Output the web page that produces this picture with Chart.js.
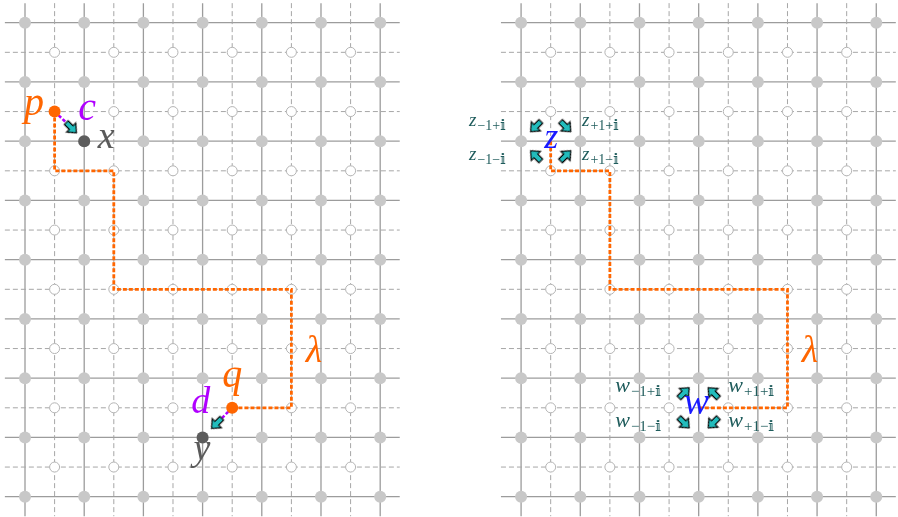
<!DOCTYPE html>
<html>
<head>
<meta charset="utf-8">
<script src="https://cdn.jsdelivr.net/npm/chart.js@4.4.1/dist/chart.umd.min.js"></script>
<style>
  html, body { margin: 0; padding: 0; background: #fff; }
  canvas { display: block; }
</style>
</head>
<body>
<canvas id="lattice" width="898" height="517"></canvas>
<script>
// ---- lattice data (grid units, row 0 at the top) ----
const primalCols = [0, 1, 2, 3, 4, 5, 6];
const primalRows = [0, 1, 2, 3, 4, 5, 6, 7, 8];
const dualCols = [0.5, 1.5, 2.5, 3.5, 4.5, 5.5];
const dualRows = [0.5, 1.5, 2.5, 3.5, 4.5, 5.5, 6.5, 7.5];
const lineSpanX = [-0.34, 6.33];
const lineSpanY = [-0.33, 8.33];

// left panel
const pathLeft = [[0.5, 1.5], [0.5, 2.5], [1.5, 2.5], [1.5, 4.5], [4.5, 4.5], [4.5, 6.5], [3.5, 6.5]];
const endsLeft = [[0.5, 1.5], [3.5, 6.5]];          // p, q
const targetsLeft = [[1, 2], [3, 7]];               // x, y
const linksLeft = [[[0.5, 1.5], [0.69, 1.68]], [[3.5, 6.5], [3.31, 6.69]]];
const arrowsLeft = [[0.78, 1.77, 45], [3.24, 6.76, 135]];   // u, v, direction

// right panel
const pathRight = [[0.5, 2], [0.5, 2.5], [1.5, 2.5], [1.5, 4.5], [4.5, 4.5], [4.5, 6.5], [3, 6.5]];
const arrowsZ = [[0.25, 1.75, 135], [0.75, 1.75, 45], [0.25, 2.25, 225], [0.75, 2.25, 315]];
const arrowsW = [[2.75, 6.25, 315], [3.25, 6.25, 225], [2.75, 6.75, 45], [3.25, 6.75, 135]];

// ---- layout ----
const panelDx = [0, 8.38];
const X0 = -0.4223, X1 = 14.747, Y0 = -0.383, Y1 = 8.343;

const ORANGE = '#ff6600';
const PURPLE = '#b000ff';
const GRAYTXT = '#5a5a5a';
const BLUE = '#1a1aff';
const TEAL = '#1f5c5c';

// single letters (u, v = centre x / baseline in grid units)
const letters = [
  { t: 'p', u: 0.15, v: 1.56, c: ORANGE, s: 40 },
  { t: 'c', u: 1.05, v: 1.64, c: PURPLE, s: 40 },
  { t: 'x', u: 1.37, v: 2.12, c: GRAYTXT, s: 38 },
  { t: 'q', u: 3.50, v: 6.15, c: ORANGE, s: 40 },
  { t: 'd', u: 2.97, v: 6.59, c: PURPLE, s: 38 },
  { t: 'y', u: 2.99, v: 7.38, c: GRAYTXT, s: 38 },
  { t: 'λ', u: 4.88, v: 5.73, c: ORANGE, s: 38 },
  { t: 'λ', u: 4.88 + panelDx[1], v: 5.73, c: ORANGE, s: 38 },
  { t: 'z', u: 0.51 + panelDx[1], v: 2.11, c: BLUE, s: 36 },
  { t: 'w', u: 2.96 + panelDx[1], v: 6.60, c: BLUE, s: 38 }
];
// subscripted labels (u = left edge)
const subLabels = [
  { t: 'z', sub: '−1+𝕚', u: -0.88, v: 1.74, s: 19, ss: 14 },
  { t: 'z', sub: '+1+𝕚', u: 1.03, v: 1.74, s: 19, ss: 14 },
  { t: 'z', sub: '−1−𝕚', u: -0.88, v: 2.32, s: 19, ss: 14 },
  { t: 'z', sub: '+1−𝕚', u: 1.03, v: 2.32, s: 19, ss: 14 },
  { t: 'w', sub: '−1+𝕚', u: 1.59, v: 6.23, s: 22, ss: 15 },
  { t: 'w', sub: '+1+𝕚', u: 3.50, v: 6.23, s: 22, ss: 15 },
  { t: 'w', sub: '−1−𝕚', u: 1.59, v: 6.82, s: 22, ss: 15 },
  { t: 'w', sub: '+1−𝕚', u: 3.50, v: 6.82, s: 22, ss: 15 }
];

// ---- arrow glyph used as point style ----
function makeArrow() {
  const cv = document.createElement('canvas');
  cv.width = 22; cv.height = 22;
  const g = cv.getContext('2d');
  g.translate(11, 11);
  g.beginPath();
  g.moveTo(-7, -2.6); g.lineTo(0, -2.6); g.lineTo(0, -6.5);
  g.lineTo(7.5, 0);
  g.lineTo(0, 6.5); g.lineTo(0, 2.6); g.lineTo(-7, 2.6);
  g.closePath();
  g.fillStyle = '#22bcbc';
  g.fill();
  g.lineWidth = 1.1;
  g.strokeStyle = '#000';
  g.stroke();
  return cv;
}
const arrowImg = makeArrow();

// ---- datasets ----
const datasets = [];
const pt = (u, v, dx) => ({ x: u + dx, y: v });

function lineSet(points, color, width, dash, order) {
  datasets.push({
    data: points,
    showLine: true,
    borderColor: color,
    borderWidth: width,
    borderDash: dash,
    pointRadius: 0,
    fill: false,
    order
  });
}

panelDx.forEach(dx => {
  primalRows.forEach(r => lineSet([pt(lineSpanX[0], r, dx), pt(lineSpanX[1], r, dx)], '#9c9c9c', 1.3, [], 20));
  primalCols.forEach(c => lineSet([pt(c, lineSpanY[0], dx), pt(c, lineSpanY[1], dx)], '#9c9c9c', 1.3, [], 20));
  dualRows.forEach(r => lineSet([pt(lineSpanX[0], r, dx), pt(lineSpanX[1], r, dx)], '#a6a6a6', 1, [5, 3], 19));
  dualCols.forEach(c => lineSet([pt(c, lineSpanY[0], dx), pt(c, lineSpanY[1], dx)], '#a6a6a6', 1, [5, 3], 19));

  const filled = [];
  primalCols.forEach(c => primalRows.forEach(r => filled.push(pt(c, r, dx))));
  datasets.push({ data: filled, pointRadius: 6, pointBackgroundColor: '#c8c8c8', pointBorderWidth: 0, order: 18 });

  const hollow = [];
  dualCols.forEach(c => dualRows.forEach(r => hollow.push(pt(c, r, dx))));
  datasets.push({ data: hollow, pointRadius: 5, pointBackgroundColor: '#ffffff', pointBorderColor: '#b4b4b4', pointBorderWidth: 1, order: 17 });
});

// orange paths
lineSet(pathLeft.map(p => pt(p[0], p[1], panelDx[0])), ORANGE, 2.8, [4, 2], 10);
lineSet(pathRight.map(p => pt(p[0], p[1], panelDx[1])), ORANGE, 2.8, [4, 2], 10);

// purple links
linksLeft.forEach(l => lineSet(l.map(p => pt(p[0], p[1], 0)), PURPLE, 2.6, [3.5, 2], 9));

// arrows
function arrowSet(list, dx) {
  datasets.push({
    data: list.map(a => pt(a[0], a[1], dx)),
    pointStyle: arrowImg,
    rotation: list.map(a => a[2]),
    pointRadius: 8,
    order: 8
  });
}
arrowSet(arrowsLeft, panelDx[0]);
arrowSet(arrowsZ, panelDx[1]);
arrowSet(arrowsW, panelDx[1]);

// p, q and x, y
datasets.push({ data: endsLeft.map(p => pt(p[0], p[1], 0)), pointRadius: 6, pointBackgroundColor: ORANGE, pointBorderWidth: 0, order: 5 });
datasets.push({ data: targetsLeft.map(p => pt(p[0], p[1], 0)), pointRadius: 6, pointBackgroundColor: '#5c5c5c', pointBorderWidth: 0, order: 5 });

// ---- text labels drawn through the scales ----
const SERIF = '"Liberation Serif", "DejaVu Serif", serif';
const labelPlugin = {
  id: 'mathLabels',
  afterDatasetsDraw(chart) {
    const { ctx, scales } = chart;
    const sx = scales.x, sy = scales.y;
    ctx.save();
    ctx.textBaseline = 'alphabetic';
    letters.forEach(l => {
      ctx.font = 'italic ' + l.s + 'px ' + SERIF;
      ctx.fillStyle = l.c;
      ctx.textAlign = 'center';
      ctx.fillText(l.t, sx.getPixelForValue(l.u), sy.getPixelForValue(l.v));
    });
    subLabels.forEach(l => {
      const u = l.u + panelDx[1];
      const px = sx.getPixelForValue(u), py = sy.getPixelForValue(l.v);
      ctx.fillStyle = TEAL;
      ctx.textAlign = 'left';
      ctx.font = 'italic ' + l.s + 'px ' + SERIF;
      ctx.fillText(l.t, px, py);
      const w = ctx.measureText(l.t).width;
      ctx.font = l.ss + 'px ' + SERIF + ', "DejaVu Sans"';
      ctx.fillText(l.sub, px + w + 1, py + 4);
    });
    ctx.restore();
  }
};

new Chart(document.getElementById('lattice'), {
  type: 'scatter',
  data: { datasets },
  options: {
    responsive: false,
    animation: false,
    devicePixelRatio: 1,
    layout: { padding: 0, autoPadding: false },
    plugins: { legend: { display: false }, tooltip: { enabled: false } },
    scales: {
      x: { type: 'linear', min: X0, max: X1, display: false },
      y: { type: 'linear', min: Y0, max: Y1, reverse: true, display: false }
    }
  },
  plugins: [labelPlugin]
});
</script>
</body>
</html>
